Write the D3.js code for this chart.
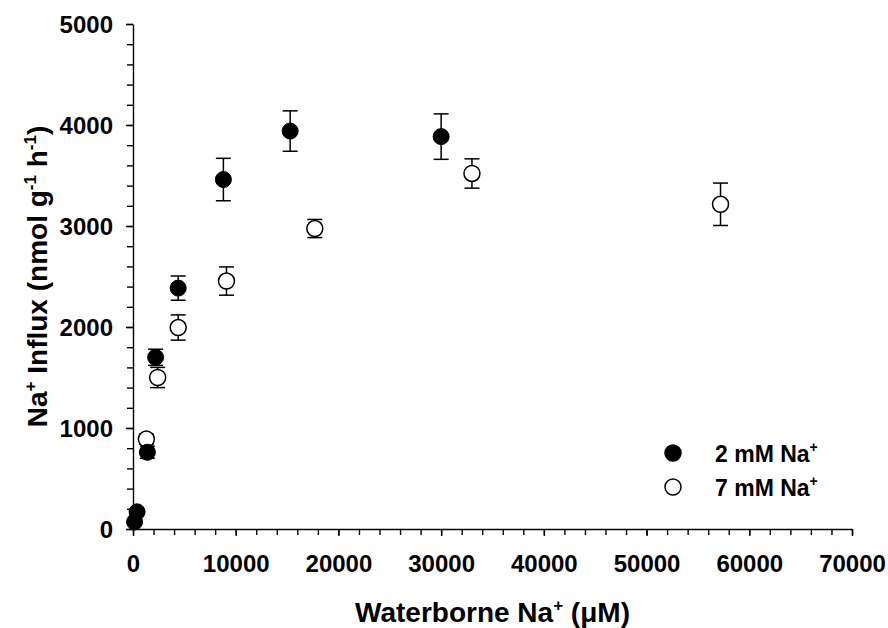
<!DOCTYPE html>
<html>
<head>
<meta charset="utf-8">
<script src="https://cdn.jsdelivr.net/npm/d3@7"></script>
<style>
  body { margin: 0; background: #fff; }
  svg text { font-family: "Liberation Sans", Arial, sans-serif; font-weight: bold; fill: #000; }
</style>
</head>
<body>
<svg id="chart" width="888" height="628"></svg>
<script>
// 2 mM Na+ acclimated (filled)
var x2 = [150, 400, 1400, 2200, 4400, 8800, 15300, 30000];
var y2 = [70, 170, 760, 1700, 2385, 3460, 3940, 3885];
var e2 = [20, 20, 60, 80, 120, 210, 200, 225];

// 7 mM Na+ acclimated (open)
var x7 = [1300, 2400, 4400, 9100, 17700, 33000, 57200];
var y7 = [890, 1500, 1995, 2455, 2975, 3520, 3215];
var e7 = [50, 100, 125, 140, 90, 145, 210];

var xTicks = [0, 10000, 20000, 30000, 40000, 50000, 60000, 70000];
var yTicks = [0, 1000, 2000, 3000, 4000, 5000];

var svg = d3.select("#chart");
var margin = { top: 24, right: 36, bottom: 99, left: 133 };
var width = 888 - margin.left - margin.right;
var height = 628 - margin.top - margin.bottom;

var xScale = d3.scaleLinear().domain([0, 70000]).range([0, width]);
var yScale = d3.scaleLinear().domain([0, 5000]).range([height, 0]);

var g = svg.append("g").attr("transform", "translate(" + margin.left + "," + margin.top + ")");

// minor ticks
g.append("g")
    .attr("transform", "translate(0," + height + ")")
    .call(d3.axisBottom(xScale).tickValues(d3.range(0, 70001, 2000)).tickSize(6).tickFormat(""))
    .call(a => a.select(".domain").remove());
g.append("g")
    .call(d3.axisLeft(yScale).tickValues(d3.range(0, 5001, 200)).tickSize(6).tickFormat(""))
    .call(a => a.select(".domain").remove());

// major axes
var xAxis = g.append("g")
    .attr("transform", "translate(0," + height + ")")
    .call(d3.axisBottom(xScale).tickValues(xTicks).tickSize(7).tickSizeOuter(0).tickPadding(19).tickFormat(d3.format("d")));
var yAxis = g.append("g")
    .call(d3.axisLeft(yScale).tickValues(yTicks).tickSize(7).tickSizeOuter(0).tickPadding(13).tickFormat(d3.format("d")));

g.selectAll(".tick line, .domain").attr("stroke", "#000").attr("stroke-width", 1.4);
g.selectAll(".tick text").style("font-size", "24px");
yAxis.selectAll(".tick text").attr("dy", "0.36em");

// error bars
function errorBars(xs, ys, es) {
    var eg = g.append("g").attr("stroke", "#000").attr("stroke-width", 1.5);
    xs.forEach(function(xv, i) {
        var cx = xScale(xv), top = yScale(ys[i] + es[i]), bot = yScale(Math.max(0, ys[i] - es[i]));
        eg.append("line").attr("x1", cx).attr("x2", cx).attr("y1", top).attr("y2", bot);
        eg.append("line").attr("x1", cx - 7.5).attr("x2", cx + 7.5).attr("y1", top).attr("y2", top);
        eg.append("line").attr("x1", cx - 7.5).attr("x2", cx + 7.5).attr("y1", bot).attr("y2", bot);
    });
}
errorBars(x7, y7, e7);
errorBars(x2, y2, e2);

var pts7 = x7.map((d, i) => [d, y7[i]]);
var pts2 = x2.map((d, i) => [d, y2[i]]);

g.selectAll(".open").data(pts7).enter().append("circle")
    .attr("class", "open")
    .attr("cx", d => xScale(d[0])).attr("cy", d => yScale(d[1]))
    .attr("r", 8).attr("fill", "#fff").attr("stroke", "#000").attr("stroke-width", 1.5);

g.selectAll(".filled").data(pts2).enter().append("circle")
    .attr("class", "filled")
    .attr("cx", d => xScale(d[0])).attr("cy", d => yScale(d[1]))
    .attr("r", 8).attr("fill", "#000").attr("stroke", "#000").attr("stroke-width", 1);

// legend
var legend = [
    { label: "2 mM Na", fill: "#000" },
    { label: "7 mM Na", fill: "#fff" }
];
legend.forEach(function(d, i) {
    var ly = 453 + i * 34;
    svg.append("circle").attr("cx", 673).attr("cy", ly).attr("r", 8)
        .attr("fill", d.fill).attr("stroke", "#000").attr("stroke-width", 1.5);
    var t = svg.append("text").attr("x", 715).attr("y", ly + 9).style("font-size", "23px");
    t.append("tspan").text(d.label);
    t.append("tspan").attr("dy", -10).style("font-size", "14px").text("+");
});

// axis titles
var xt = svg.append("text")
    .attr("x", margin.left + width / 2).attr("y", 622)
    .attr("text-anchor", "middle").style("font-size", "28px");
xt.append("tspan").text("Waterborne Na");
xt.append("tspan").attr("dy", -11).style("font-size", "17px").text("+");
xt.append("tspan").attr("dy", 11).text(" (\u03bcM)");

var yt = svg.append("text")
    .attr("transform", "translate(47," + (margin.top + height / 2) + ") rotate(-90)")
    .attr("text-anchor", "middle").style("font-size", "28px");
yt.append("tspan").text("Na");
yt.append("tspan").attr("dy", -11).style("font-size", "17px").text("+");
yt.append("tspan").attr("dy", 11).text(" Influx (nmol g");
yt.append("tspan").attr("dy", -11).style("font-size", "17px").text("-1");
yt.append("tspan").attr("dy", 11).text(" h");
yt.append("tspan").attr("dy", -11).style("font-size", "17px").text("-1");
yt.append("tspan").attr("dy", 11).text(")");
</script>
</body>
</html>
